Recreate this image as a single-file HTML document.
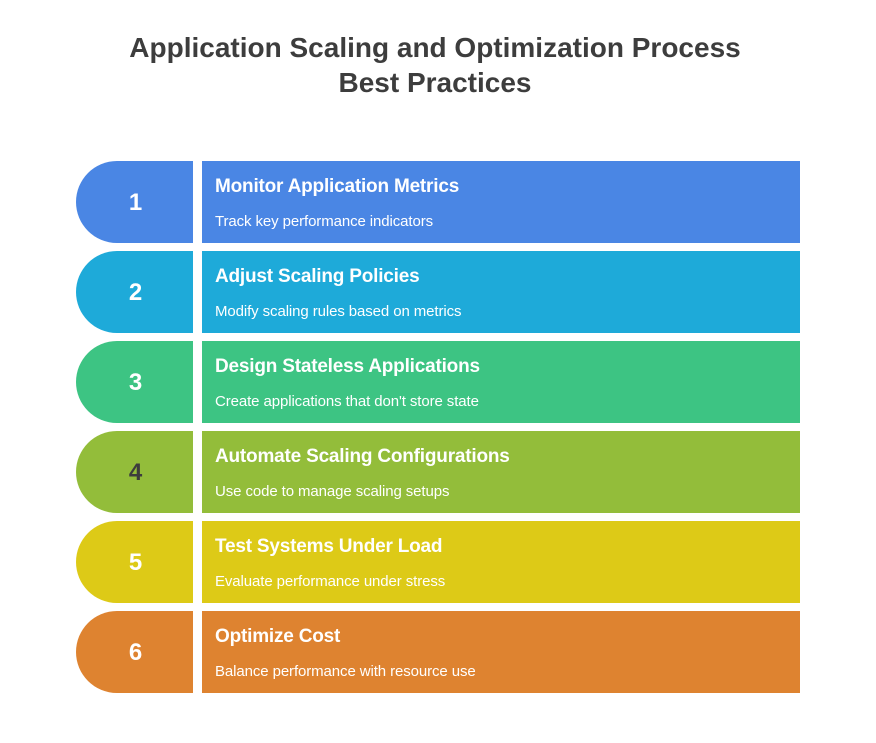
<!DOCTYPE html>
<html><head><style>
body{margin:0;width:876px;height:743px;background:#fff;font-family:"Liberation Sans",Arial,sans-serif;position:relative;overflow:hidden}
.t{position:absolute;left:0;width:870px;text-align:center;font-weight:bold;font-size:28px;color:#3d3d3d;line-height:36px}
.l{position:absolute;left:76px;width:117px;height:82px;border-radius:41px 0 0 41px;color:#fff;font-weight:bold;font-size:24px;display:flex;align-items:center;justify-content:center;box-sizing:border-box;padding-left:2px;padding-top:2px}
.r{position:absolute;left:202px;width:598px;height:82px;color:#fff}
.r b{position:absolute;left:13px;top:15px;font-size:19px;letter-spacing:-0.2px}
.r span{position:absolute;left:13px;top:52px;font-size:15px;letter-spacing:-0.1px}
</style></head><body>
<div class="t" style="top:30px">Application Scaling and Optimization Process</div>
<div class="t" style="top:65px">Best Practices</div>

<div class="l" style="top:161px;background:#4A86E4">1</div>
<div class="r" style="top:161px;background:#4A86E4"><b>Monitor Application Metrics</b><span>Track key performance indicators</span></div>

<div class="l" style="top:251px;background:#1EAAD9">2</div>
<div class="r" style="top:251px;background:#1EAAD9"><b>Adjust Scaling Policies</b><span>Modify scaling rules based on metrics</span></div>

<div class="l" style="top:341px;background:#3DC483">3</div>
<div class="r" style="top:341px;background:#3DC483"><b>Design Stateless Applications</b><span>Create applications that don't store state</span></div>

<div class="l" style="top:431px;background:#93BD3A;color:#3d3d3d">4</div>
<div class="r" style="top:431px;background:#93BD3A"><b>Automate Scaling Configurations</b><span>Use code to manage scaling setups</span></div>

<div class="l" style="top:521px;background:#DDCA17">5</div>
<div class="r" style="top:521px;background:#DDCA17"><b>Test Systems Under Load</b><span>Evaluate performance under stress</span></div>

<div class="l" style="top:611px;background:#DE8330">6</div>
<div class="r" style="top:611px;background:#DE8330"><b>Optimize Cost</b><span>Balance performance with resource use</span></div>
</body></html>
